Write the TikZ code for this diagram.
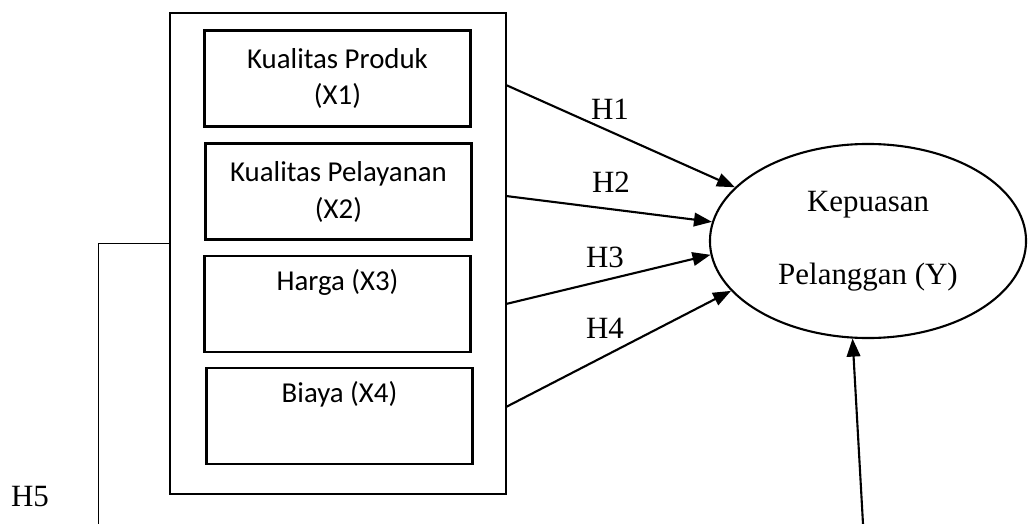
\documentclass[tikz,border=0pt]{standalone}
\usepackage{fontspec}
\setmainfont{Liberation Serif}
\newfontfamily\boxfont{Carlito}
\usetikzlibrary{arrows.meta,shapes.geometric}

\begin{document}
\begin{tikzpicture}[x=0.025cm,y=-0.025cm,
	varbox/.style={draw, line width=2pt, minimum width=6.65cm, minimum height=2.4cm, align=center, inner sep=0pt, font=\boxfont\fontsize{20.5}{26.3}\selectfont},
	hyp/.style={-{Triangle[length=0.45cm,width=0.34cm]}, line width=1.5pt},
	hlabel/.style={font=\fontsize{22}{26}\selectfont}]
	\useasboundingbox (0,0) rectangle (1029,524);
	
	% independent variables
	\node[draw, line width=2pt, minimum width=8.4cm, minimum height=12.025cm] (grp) at (338,253.5) {};
	\node[varbox] (x1) at (337.5,78.5) {Kualitas Produk\\(X1)};
	\node[varbox] (x2) at (338.5,191.5) {Kualitas Pelayanan\\(X2)};
	\node[varbox] (x3) at (337.5,304) {Harga (X3)\\ \strut};
	\node[varbox] (x4) at (339.5,416) {Biaya (X4)\\ \strut};
	
	% dependent variable
	\node[draw, ellipse, line width=1.5pt, minimum width=7.9cm, minimum height=4.85cm, align=center, font=\fontsize{22}{52}\selectfont] (kp) at (868,241) {Kepuasan\\Pelanggan (Y)};
	
	\coordinate (s1) at (506,85); \coordinate (s2) at (506,196);
	\coordinate (s3) at (506,304); \coordinate (s4) at (506,407);
	\draw[hyp] (s1) -- (kp.158); \draw[hyp] (s2) -- (kp.173);
	\draw[hyp] (s3) -- (kp.185); \draw[hyp] (s4) -- (kp.200);
	
	\node[hlabel] (h1) at (610,109) {H1}; \node[hlabel] (h2) at (611,182) {H2};
	\node[hlabel] (h3) at (605,257) {H3}; \node[hlabel] (h4) at (605,328) {H4};
	\node[hlabel] (h5) at (30,497) {H5};
	
	% simultaneous path
	\coordinate (h5top) at (98,243); \coordinate (h5end) at (98,524);
	\draw[line width=0.7pt] (grp.west |- h5top) -- (h5top) -- (h5end);
	\coordinate (yin) at (863,524);
	\draw[hyp] (yin) -- (kp.261);
\end{tikzpicture}
\end{document}
